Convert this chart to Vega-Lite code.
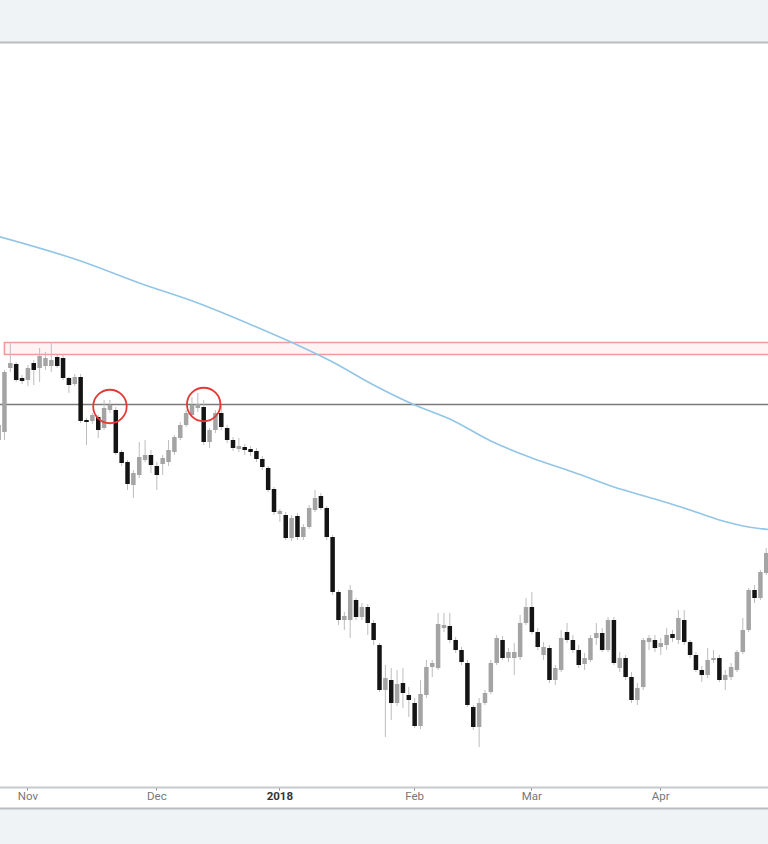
{
  "$schema": "https://vega.github.io/schema/vega-lite/v6.json",
  "width": 768,
  "height": 766,
  "autosize": "none",
  "padding": {"top": 42, "bottom": 36, "left": 0, "right": 0},
  "background": "#f0f3f6",
  "config": {"view": {"fill": "#ffffff", "stroke": null}},
  "datasets": {
    "candles": [
      {"d":"2017-10-25","o":560,"h":580,"l":552,"c":575},
      {"d":"2017-10-26","o":568,"h":630,"l":560,"c":628},
      {"d":"2017-10-27","o":632,"h":658,"l":628,"c":637},
      {"d":"2017-10-30","o":636,"h":638,"l":618,"c":620},
      {"d":"2017-10-31","o":622,"h":625,"l":616,"c":619},
      {"d":"2017-11-01","o":620,"h":635,"l":614,"c":632},
      {"d":"2017-11-02","o":637,"h":640,"l":615,"c":630},
      {"d":"2017-11-03","o":632,"h":652,"l":618,"c":644},
      {"d":"2017-11-06","o":634,"h":648,"l":630,"c":642},
      {"d":"2017-11-07","o":634,"h":658,"l":628,"c":640},
      {"d":"2017-11-08","o":643,"h":645,"l":632,"c":634},
      {"d":"2017-11-09","o":642,"h":645,"l":620,"c":622},
      {"d":"2017-11-10","o":622,"h":623,"l":607,"c":615},
      {"d":"2017-11-13","o":616,"h":626,"l":614,"c":623},
      {"d":"2017-11-14","o":623,"h":626,"l":577,"c":579},
      {"d":"2017-11-15","o":580,"h":582,"l":555,"c":578},
      {"d":"2017-11-16","o":579,"h":587,"l":576,"c":585},
      {"d":"2017-11-17","o":583,"h":585,"l":562,"c":570},
      {"d":"2017-11-20","o":572,"h":600,"l":570,"c":592},
      {"d":"2017-11-21","o":590,"h":600,"l":587,"c":595},
      {"d":"2017-11-22","o":590,"h":593,"l":545,"c":547},
      {"d":"2017-11-23","o":548,"h":550,"l":534,"c":537},
      {"d":"2017-11-24","o":538,"h":540,"l":510,"c":516},
      {"d":"2017-11-27","o":515,"h":530,"l":502,"c":527},
      {"d":"2017-11-28","o":525,"h":558,"l":522,"c":543},
      {"d":"2017-11-29","o":540,"h":560,"l":538,"c":545},
      {"d":"2017-11-30","o":545,"h":550,"l":527,"c":535},
      {"d":"2017-12-01","o":534,"h":538,"l":510,"c":525},
      {"d":"2017-12-04","o":536,"h":545,"l":525,"c":542},
      {"d":"2017-12-05","o":538,"h":560,"l":534,"c":550},
      {"d":"2017-12-06","o":548,"h":565,"l":545,"c":563},
      {"d":"2017-12-07","o":562,"h":578,"l":560,"c":575},
      {"d":"2017-12-08","o":575,"h":590,"l":573,"c":587},
      {"d":"2017-12-11","o":585,"h":603,"l":583,"c":595},
      {"d":"2017-12-12","o":592,"h":607,"l":588,"c":596},
      {"d":"2017-12-13","o":593,"h":600,"l":555,"c":558},
      {"d":"2017-12-14","o":558,"h":572,"l":552,"c":570},
      {"d":"2017-12-15","o":570,"h":590,"l":567,"c":587},
      {"d":"2017-12-18","o":587,"h":595,"l":570,"c":573},
      {"d":"2017-12-19","o":572,"h":575,"l":557,"c":560},
      {"d":"2017-12-20","o":560,"h":563,"l":549,"c":552},
      {"d":"2017-12-21","o":551,"h":562,"l":548,"c":554},
      {"d":"2017-12-22","o":553,"h":556,"l":545,"c":550},
      {"d":"2017-12-25","o":551,"h":554,"l":544,"c":548},
      {"d":"2017-12-26","o":549,"h":552,"l":538,"c":541},
      {"d":"2017-12-27","o":541,"h":544,"l":530,"c":533},
      {"d":"2017-12-28","o":532,"h":534,"l":508,"c":510},
      {"d":"2017-12-29","o":511,"h":513,"l":485,"c":488},
      {"d":"2018-01-01","o":486,"h":491,"l":478,"c":489},
      {"d":"2018-01-02","o":485,"h":488,"l":460,"c":462},
      {"d":"2018-01-03","o":462,"h":485,"l":459,"c":482},
      {"d":"2018-01-04","o":484,"h":487,"l":460,"c":463},
      {"d":"2018-01-05","o":463,"h":476,"l":460,"c":473},
      {"d":"2018-01-08","o":473,"h":495,"l":471,"c":492},
      {"d":"2018-01-09","o":490,"h":510,"l":488,"c":502},
      {"d":"2018-01-10","o":504,"h":507,"l":490,"c":492},
      {"d":"2018-01-11","o":492,"h":494,"l":460,"c":463},
      {"d":"2018-01-12","o":463,"h":465,"l":405,"c":408},
      {"d":"2018-01-15","o":408,"h":410,"l":375,"c":380},
      {"d":"2018-01-16","o":380,"h":388,"l":370,"c":384},
      {"d":"2018-01-17","o":380,"h":415,"l":362,"c":410},
      {"d":"2018-01-18","o":400,"h":402,"l":380,"c":383},
      {"d":"2018-01-19","o":383,"h":397,"l":380,"c":393},
      {"d":"2018-01-22","o":393,"h":396,"l":365,"c":377},
      {"d":"2018-01-23","o":377,"h":380,"l":355,"c":360},
      {"d":"2018-01-24","o":355,"h":357,"l":308,"c":310},
      {"d":"2018-01-25","o":310,"h":335,"l":263,"c":322},
      {"d":"2018-01-26","o":320,"h":332,"l":280,"c":297},
      {"d":"2018-01-29","o":297,"h":330,"l":294,"c":316},
      {"d":"2018-01-30","o":317,"h":332,"l":292,"c":307},
      {"d":"2018-01-31","o":305,"h":313,"l":283,"c":300},
      {"d":"2018-02-01","o":297,"h":302,"l":272,"c":274},
      {"d":"2018-02-02","o":274,"h":320,"l":271,"c":306},
      {"d":"2018-02-05","o":305,"h":340,"l":302,"c":333},
      {"d":"2018-02-06","o":333,"h":340,"l":323,"c":337},
      {"d":"2018-02-07","o":332,"h":387,"l":330,"c":376},
      {"d":"2018-02-08","o":372,"h":387,"l":368,"c":375},
      {"d":"2018-02-09","o":374,"h":387,"l":357,"c":360},
      {"d":"2018-02-12","o":360,"h":363,"l":347,"c":350},
      {"d":"2018-02-13","o":350,"h":353,"l":335,"c":338},
      {"d":"2018-02-14","o":337,"h":340,"l":293,"c":295},
      {"d":"2018-02-15","o":293,"h":295,"l":270,"c":273},
      {"d":"2018-02-16","o":273,"h":302,"l":253,"c":297},
      {"d":"2018-02-19","o":297,"h":310,"l":295,"c":307},
      {"d":"2018-02-20","o":308,"h":340,"l":306,"c":337},
      {"d":"2018-02-21","o":337,"h":365,"l":335,"c":362},
      {"d":"2018-02-22","o":360,"h":364,"l":340,"c":342},
      {"d":"2018-02-23","o":342,"h":352,"l":338,"c":348},
      {"d":"2018-02-26","o":342,"h":357,"l":325,"c":348},
      {"d":"2018-02-27","o":343,"h":385,"l":340,"c":377},
      {"d":"2018-02-28","o":377,"h":402,"l":375,"c":393},
      {"d":"2018-03-01","o":393,"h":408,"l":366,"c":368},
      {"d":"2018-03-02","o":368,"h":372,"l":350,"c":353},
      {"d":"2018-03-05","o":345,"h":358,"l":340,"c":353},
      {"d":"2018-03-06","o":352,"h":355,"l":317,"c":320},
      {"d":"2018-03-07","o":320,"h":335,"l":315,"c":332},
      {"d":"2018-03-08","o":330,"h":370,"l":328,"c":362},
      {"d":"2018-03-09","o":368,"h":377,"l":357,"c":360},
      {"d":"2018-03-12","o":360,"h":365,"l":347,"c":350},
      {"d":"2018-03-13","o":350,"h":355,"l":332,"c":335},
      {"d":"2018-03-14","o":336,"h":347,"l":330,"c":342},
      {"d":"2018-03-15","o":340,"h":365,"l":338,"c":362},
      {"d":"2018-03-16","o":362,"h":377,"l":355,"c":367},
      {"d":"2018-03-19","o":367,"h":372,"l":348,"c":350},
      {"d":"2018-03-20","o":350,"h":383,"l":348,"c":380},
      {"d":"2018-03-21","o":380,"h":383,"l":335,"c":337},
      {"d":"2018-03-22","o":332,"h":348,"l":328,"c":342},
      {"d":"2018-03-23","o":342,"h":345,"l":320,"c":323},
      {"d":"2018-03-26","o":323,"h":328,"l":297,"c":300},
      {"d":"2018-03-27","o":300,"h":317,"l":295,"c":312},
      {"d":"2018-03-28","o":313,"h":362,"l":310,"c":360},
      {"d":"2018-03-29","o":358,"h":365,"l":350,"c":362},
      {"d":"2018-03-30","o":360,"h":365,"l":348,"c":352},
      {"d":"2018-04-02","o":353,"h":362,"l":345,"c":357},
      {"d":"2018-04-03","o":355,"h":372,"l":350,"c":365},
      {"d":"2018-04-04","o":366,"h":370,"l":358,"c":362},
      {"d":"2018-04-05","o":360,"h":390,"l":356,"c":382},
      {"d":"2018-04-06","o":380,"h":390,"l":355,"c":358},
      {"d":"2018-04-09","o":358,"h":360,"l":342,"c":345},
      {"d":"2018-04-10","o":345,"h":348,"l":328,"c":330},
      {"d":"2018-04-11","o":330,"h":334,"l":318,"c":325},
      {"d":"2018-04-12","o":325,"h":352,"l":322,"c":340},
      {"d":"2018-04-13","o":340,"h":350,"l":337,"c":342},
      {"d":"2018-04-16","o":342,"h":345,"l":318,"c":320},
      {"d":"2018-04-17","o":320,"h":330,"l":310,"c":325},
      {"d":"2018-04-18","o":323,"h":337,"l":320,"c":333},
      {"d":"2018-04-19","o":330,"h":350,"l":328,"c":348},
      {"d":"2018-04-20","o":348,"h":382,"l":346,"c":370},
      {"d":"2018-04-23","o":370,"h":412,"l":368,"c":410},
      {"d":"2018-04-24","o":410,"h":415,"l":397,"c":402},
      {"d":"2018-04-25","o":402,"h":430,"l":400,"c":428},
      {"d":"2018-04-26","o":427,"h":452,"l":425,"c":447},
      {"d":"2018-04-27","o":444,"h":460,"l":440,"c":455}
    ],
    "ma": [
      {"d":"2017-10-25","v":763.5},
      {"d":"2017-11-14","v":739},
      {"d":"2017-11-28","v":717},
      {"d":"2017-12-12","v":697},
      {"d":"2017-12-26","v":673},
      {"d":"2018-01-04","v":655},
      {"d":"2018-01-12","v":638},
      {"d":"2018-01-23","v":615},
      {"d":"2018-02-01","v":595},
      {"d":"2018-02-09","v":581},
      {"d":"2018-02-20","v":559},
      {"d":"2018-03-01","v":542},
      {"d":"2018-03-12","v":528},
      {"d":"2018-03-21","v":513},
      {"d":"2018-03-30","v":501},
      {"d":"2018-04-09","v":490},
      {"d":"2018-04-16","v":480},
      {"d":"2018-04-23","v":473},
      {"d":"2018-04-27","v":470}
    ]
  },
  "layer": [
    {
      "data": {"values": [{"d0": "2017-10-26", "d1": "2018-04-27", "top": 657.5, "bot": 645.5}]},
      "mark": {"type": "rect", "fill": "#fff3f3", "stroke": "#f29a9a", "strokeWidth": 1.6},
      "encoding": {
        "x": {"field": "d0", "type": "ordinal"},
        "x2": {"field": "d1"},
        "y": {"field": "top", "type": "quantitative"},
        "y2": {"field": "bot"}
      }
    },
    {
      "data": {"values": [{"level": 595.5}]},
      "mark": {"type": "rule", "color": "#7a7a7a", "strokeWidth": 1.6},
      "encoding": {
        "y": {"field": "level", "type": "quantitative"}
      }
    },
    {
      "data": {"name": "ma"},
      "mark": {"type": "line", "color": "#93c5e6", "strokeWidth": 1.6, "interpolate": "monotone"},
      "encoding": {
        "x": {"field": "d", "type": "ordinal"},
        "y": {"field": "v", "type": "quantitative"}
      }
    },
    {
      "data": {"name": "candles"},
      "mark": {"type": "rule", "color": "#bdbdbd", "strokeWidth": 1},
      "encoding": {
        "x": {
          "field": "d", "type": "ordinal",
          "scale": {"type": "band", "paddingInner": 0, "paddingOuter": 0, "range": [-4.33, 775.05]},
          "axis": {
            "values": ["2017-11-01", "2017-12-01", "2018-01-01", "2018-02-01", "2018-03-01", "2018-04-02"],
            "labelExpr": "{'2017-11-01':'Nov','2017-12-01':'Dec','2018-01-01':'2018','2018-02-01':'Feb','2018-03-01':'Mar','2018-04-02':'Apr'}[datum.value]",
            "orient": "bottom",
            "offset": -21,
            "bandPosition": 0.5,
            "title": null,
            "grid": false,
            "domainColor": "#c6c9cc",
            "domainWidth": 2,
            "tickColor": "#8a8a8a",
            "tickSize": 3,
            "labelAngle": 0,
            "labelAlign": "center",
            "labelFont": "Roboto",
            "labelFontSize": 11.5,
            "labelPadding": 6,
            "labelColor": {"condition": {"test": "datum.value == '2018-01-01'", "value": "#333333"}, "value": "#777777"},
            "labelFontWeight": {"condition": {"test": "datum.value == '2018-01-01'", "value": "bold"}, "value": "normal"}
          }
        },
        "y": {
          "field": "l", "type": "quantitative",
          "scale": {"domain": [192, 958], "nice": false, "zero": false},
          "axis": {
            "values": [192, 958],
            "grid": true,
            "gridColor": "#b9bcc0",
            "gridWidth": 2,
            "labels": false,
            "ticks": false,
            "domain": false,
            "title": null
          }
        },
        "y2": {"field": "h"}
      }
    },
    {
      "data": {"name": "candles"},
      "mark": {"type": "bar", "size": 4.5},
      "encoding": {
        "x": {"field": "d", "type": "ordinal"},
        "y": {"field": "o", "type": "quantitative"},
        "y2": {"field": "c"},
        "fill": {"condition": {"test": "datum.c < datum.o", "value": "#141414"}, "value": "#a4a4a4"}
      }
    },
    {
      "data": {"values": [{"d": "2017-11-21", "p": 593.5}, {"d": "2017-12-13", "p": 595.5}]},
      "mark": {"type": "point", "shape": "circle", "filled": false, "stroke": "#e53935", "strokeWidth": 1.8, "size": 1120, "opacity": 1},
      "encoding": {
        "x": {"field": "d", "type": "ordinal"},
        "y": {"field": "p", "type": "quantitative"}
      }
    }
  ]
}
